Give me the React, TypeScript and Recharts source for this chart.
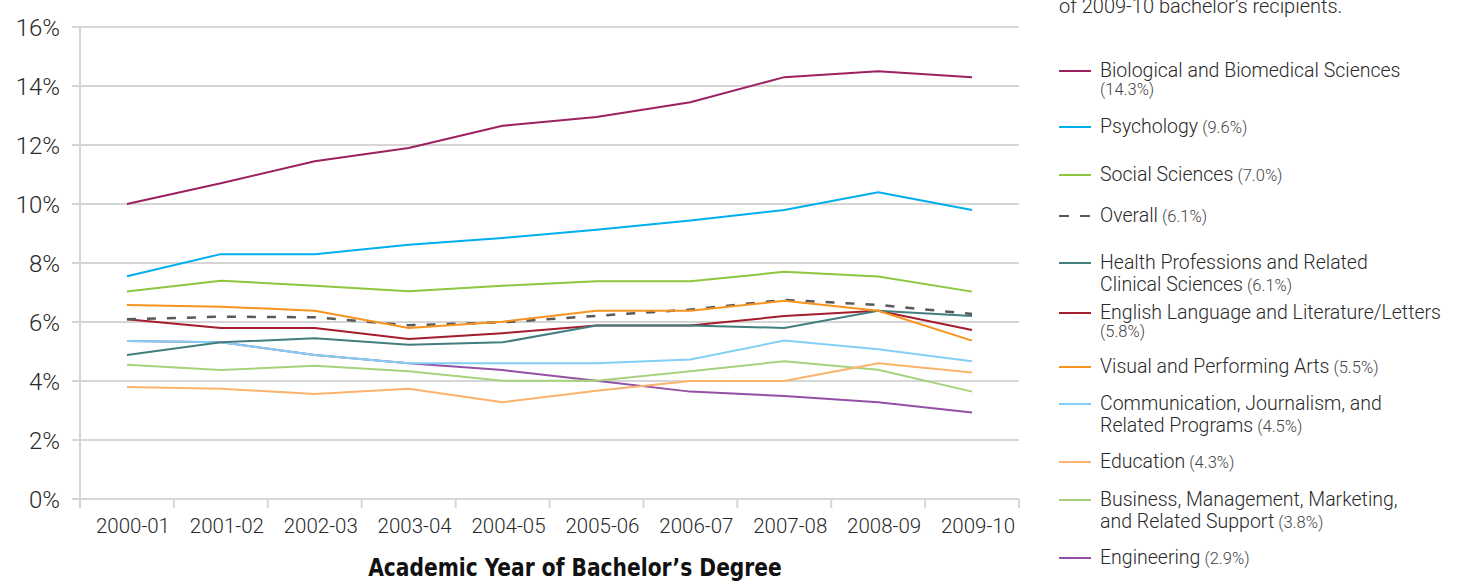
import { LineChart, Line, XAxis, YAxis, CartesianGrid } from "recharts";

const YEARS = ["2000-01", "2001-02", "2002-03", "2003-04", "2004-05", "2005-06", "2006-07", "2007-08", "2008-09", "2009-10"];

const BIO = [10.0, 10.7, 11.45, 11.9, 12.65, 12.95, 13.45, 14.3, 14.5, 14.3];
const PSYCH = [7.55, 8.3, 8.3, 8.62, 8.85, 9.13, 9.44, 9.8, 10.4, 9.8];
const SOCIAL = [7.03, 7.4, 7.23, 7.04, 7.23, 7.38, 7.38, 7.7, 7.54, 7.03];
const OVERALL = [6.09, 6.18, 6.16, 5.89, 5.99, 6.21, 6.42, 6.75, 6.58, 6.27];
const HEALTH = [4.88, 5.31, 5.45, 5.23, 5.31, 5.88, 5.88, 5.8, 6.38, 6.2];
const ENGLISH = [6.09, 5.8, 5.8, 5.42, 5.62, 5.88, 5.88, 6.2, 6.38, 5.73];
const VISUAL = [6.58, 6.52, 6.38, 5.8, 6.01, 6.38, 6.38, 6.72, 6.38, 5.37];
const COMM = [5.36, 5.31, 4.88, 4.6, 4.6, 4.6, 4.73, 5.37, 5.08, 4.67];
const EDUCATION = [3.8, 3.74, 3.56, 3.74, 3.28, 3.67, 4.0, 4.0, 4.6, 4.29];
const BUSINESS = [4.55, 4.37, 4.52, 4.33, 4.01, 4.01, 4.33, 4.67, 4.38, 3.64];
const ENGINEERING = [5.36, 5.31, 4.88, 4.6, 4.37, 4.01, 3.64, 3.49, 3.28, 2.93];

const Y_TICKS = [0, 2, 4, 6, 8, 10, 12, 14, 16];

// legend order (top to bottom)
const SERIES = [
  { key: "bio", values: BIO, color: "#9b2161", lines: ["Biological and Biomedical Sciences"], pct: "(14.3%)", pctOwnLine: true },
  { key: "psych", values: PSYCH, color: "#00aeef", lines: ["Psychology"], pct: "(9.6%)" },
  { key: "social", values: SOCIAL, color: "#8dc63f", lines: ["Social Sciences"], pct: "(7.0%)" },
  { key: "overall", values: OVERALL, color: "#595959", lines: ["Overall"], pct: "(6.1%)", dash: "9 11" },
  { key: "health", values: HEALTH, color: "#437e7e", lines: ["Health Professions and Related", "Clinical Sciences"], pct: "(6.1%)" },
  { key: "english", values: ENGLISH, color: "#a31d2c", lines: ["English Language and Literature/Letters"], pct: "(5.8%)", pctOwnLine: true },
  { key: "visual", values: VISUAL, color: "#f7931e", lines: ["Visual and Performing Arts"], pct: "(5.5%)" },
  { key: "comm", values: COMM, color: "#84d0f5", lines: ["Communication, Journalism, and", "Related Programs"], pct: "(4.5%)" },
  { key: "edu", values: EDUCATION, color: "#fbb26c", lines: ["Education"], pct: "(4.3%)" },
  { key: "business", values: BUSINESS, color: "#a7d27c", lines: ["Business, Management, Marketing,", "and Related Support"], pct: "(3.8%)" },
  { key: "eng", values: ENGINEERING, color: "#9450a4", lines: ["Engineering"], pct: "(2.9%)" },
];

const DRAW_ORDER = ["eng", "business", "edu", "comm", "english", "health", "overall", "visual", "social", "psych", "bio"];

const LEGEND_TOP = [71, 127, 175, 216, 263, 313, 367, 404, 462, 500, 558];

const data = YEARS.map((year, i) => {
  const row: Record<string, number | string> = { idx: i, year };
  SERIES.forEach((s) => {
    row[s.key] = s.values[i];
  });
  return row;
});

const FONT = "Roboto, 'Liberation Sans', sans-serif";
const GRID = "#d6d6d6";
const TEXT = "#2a2a2a";

const PLOT_W = 939;
const HALF_BAND = PLOT_W / YEARS.length / 2;

// tick marks sit between the years, labels under each year
function YearTick(props: any) {
  const { x, y, payload, index } = props;
  return (
    <g>
      <line x1={x - HALF_BAND} x2={x - HALF_BAND} y1={y} y2={y + 9} stroke={GRID} strokeWidth={2} />
      {index === YEARS.length - 1 ? (
        <line x1={x + HALF_BAND} x2={x + HALF_BAND} y1={y} y2={y + 9} stroke={GRID} strokeWidth={2} />
      ) : null}
      <text x={x + 6} y={y + 34} textAnchor="middle" fill={TEXT} fontSize={20.5} fontFamily={FONT} fontWeight={300}>
        {YEARS[payload.value]}
      </text>
    </g>
  );
}

function LegendBlock() {
  return (
    <div style={{ position: "absolute", left: 0, top: 0, fontFamily: FONT, fontWeight: 300, color: TEXT }}>
      <div style={{ position: "absolute", left: 1059, top: -4, fontSize: 20, lineHeight: "20px", whiteSpace: "nowrap" }}>
        of 2009-10 bachelor’s recipients.
      </div>
      {SERIES.map((s, i) => (
        <div key={s.key} style={{ position: "absolute", left: 1059, top: LEGEND_TOP[i] - 11, width: 400 }}>
          <svg width={34} height={22} style={{ position: "absolute", left: 0, top: 0 }}>
            <line x1={0} x2={32} y1={11} y2={11} stroke={s.color} strokeWidth={2} strokeDasharray={s.dash ? "10 11" : undefined} />
          </svg>
          <div style={{ position: "absolute", left: 41, top: 0, fontSize: 19.5, lineHeight: "22px", whiteSpace: "nowrap" }}>
            {s.lines.map((ln, j) => (
              <div key={j}>
                {ln}
                {!s.pctOwnLine && j === s.lines.length - 1 ? (
                  <span style={{ fontSize: 16.5, color: "#444" }}> {s.pct}</span>
                ) : null}
              </div>
            ))}
            {s.pctOwnLine ? (
              <div style={{ fontSize: 16.5, color: "#444", lineHeight: "16px" }}>{s.pct}</div>
            ) : null}
          </div>
        </div>
      ))}
    </div>
  );
}

export default function App() {
  const byKey = Object.fromEntries(SERIES.map((s) => [s.key, s]));
  return (
    <div style={{ position: "absolute", left: 0, top: 0, width: 1466, height: 584, background: "#fff", overflow: "hidden" }}>
      <LineChart width={1466} height={584} data={data} margin={{ top: 27, right: 447, bottom: 45, left: 0 }}>
        <CartesianGrid vertical={false} stroke={GRID} strokeWidth={2} />
        <XAxis
          type="number"
          dataKey="idx"
          domain={[-0.5, 9.5]}
          ticks={[0, 1, 2, 3, 4, 5, 6, 7, 8, 9]}
          interval={0}
          height={40}
          tickSize={0}
          tickMargin={0}
          axisLine={false}
          tickLine={false}
          tick={<YearTick />}
        />
        <YAxis
          type="number"
          domain={[0, 16]}
          ticks={Y_TICKS}
          width={80}
          tickSize={8}
          tickMargin={12}
          tickFormatter={(v: number) => `${v}%`}
          axisLine={{ stroke: GRID, strokeWidth: 2 }}
          tickLine={{ stroke: GRID, strokeWidth: 2 }}
          tick={{ fill: TEXT, fontSize: 24, fontFamily: FONT, fontWeight: 300 }}
        />
        {DRAW_ORDER.map((k) => {
          const s = byKey[k];
          return (
            <Line
              key={k}
              type="linear"
              dataKey={k}
              stroke={s.color}
              strokeWidth={s.dash ? 2.5 : 2}
              strokeDasharray={s.dash}
              dot={false}
              activeDot={false}
              isAnimationActive={false}
            />
          );
        })}
      </LineChart>
      <div
        style={{
          position: "absolute",
          left: 275,
          width: 600,
          top: 553,
          textAlign: "center",
          fontFamily: "'Liberation Sans Narrow', 'DejaVu Sans Condensed', sans-serif",
          fontWeight: 700,
          fontSize: 25,
          color: "#111",
          whiteSpace: "nowrap",
          transform: "scaleX(0.9)",
        }}
      >
        Academic Year of Bachelor’s Degree
      </div>
      <LegendBlock />
    </div>
  );
}
